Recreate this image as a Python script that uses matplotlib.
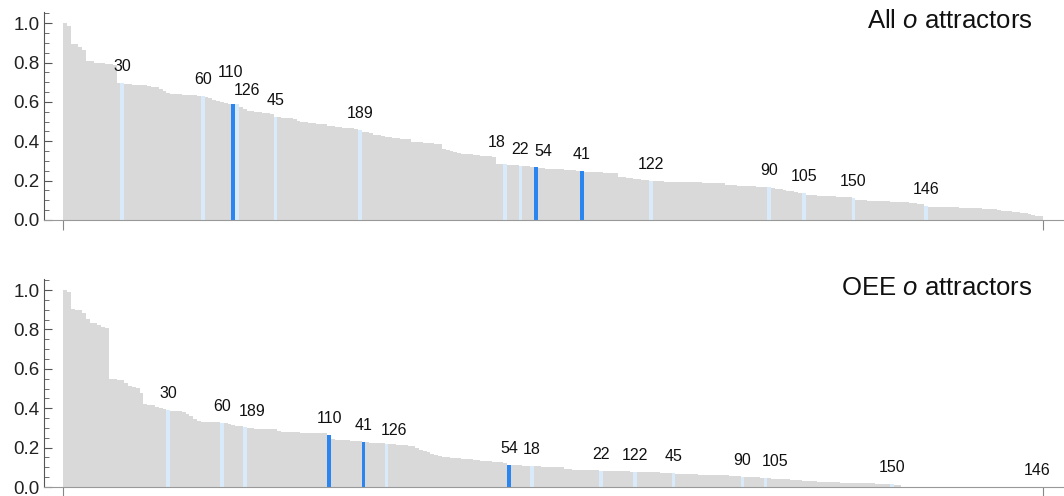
import numpy as np
import matplotlib.pyplot as plt
from matplotlib.ticker import MultipleLocator, FormatStrFormatter

plt.rcParams['font.family'] = ['Liberation Sans', 'DejaVu Sans']
plt.rcParams['mathtext.fontset'] = 'custom'
plt.rcParams['mathtext.it'] = 'Liberation Sans:italic'
plt.rcParams['mathtext.rm'] = 'Liberation Sans'

# sorted scores of all 256 rules
SCORE_ALL = [
    1.0, 0.985, 0.895, 0.893, 0.88, 0.865, 0.81, 0.808,
    0.80, 0.798, 0.796, 0.794, 0.792, 0.79, 0.695, 0.695,
    0.69, 0.69, 0.688, 0.687, 0.685, 0.684, 0.68, 0.678, 0.675, 0.665, 0.655,
    0.645, 0.643, 0.641, 0.64, 0.638, 0.636, 0.635, 0.633, 0.632, 0.63,
    0.627, 0.62, 0.612, 0.605, 0.6, 0.595, 0.59, 0.588, 0.588, 0.575, 0.565,
    0.555, 0.552, 0.55, 0.548, 0.546, 0.543, 0.538, 0.525,
    0.522, 0.52, 0.519, 0.517, 0.515,
    0.505, 0.5, 0.498, 0.495, 0.492, 0.49, 0.488, 0.486,
    0.478, 0.476, 0.474, 0.472, 0.47, 0.468, 0.466, 0.463, 0.458,
    0.449, 0.447, 0.444,
    0.432, 0.43, 0.427, 0.424, 0.421, 0.419, 0.416, 0.414, 0.412, 0.41,
    0.398, 0.396, 0.394, 0.392, 0.39, 0.389, 0.388, 0.387,
    0.359, 0.355, 0.351, 0.347,
    0.339, 0.337, 0.335, 0.333, 0.331, 0.329, 0.327, 0.325, 0.323, 0.322,
    0.287, 0.286, 0.285, 0.281, 0.279, 0.278, 0.276, 0.274, 0.272, 0.27, 0.268,
    0.263, 0.262, 0.261, 0.26, 0.259, 0.258, 0.257, 0.256, 0.254, 0.253, 0.251, 0.249,
    0.246, 0.245, 0.244, 0.243, 0.242, 0.241, 0.24, 0.238, 0.237,
    0.22, 0.218, 0.215, 0.213, 0.21, 0.208, 0.205, 0.203, 0.198,
    0.197, 0.196, 0.196, 0.195, 0.195, 0.194, 0.194, 0.193, 0.193, 0.192,
    0.192, 0.191, 0.191, 0.19, 0.19, 0.19, 0.189, 0.189, 0.188,
    0.178, 0.177, 0.176, 0.175, 0.174, 0.173, 0.172, 0.171, 0.17, 0.169, 0.168, 0.166,
    0.161, 0.158, 0.155, 0.152, 0.148, 0.145, 0.142, 0.139, 0.136,
    0.127, 0.126, 0.125, 0.124, 0.123, 0.122, 0.121, 0.12, 0.119, 0.118, 0.117, 0.116, 0.112,
    0.102, 0.101, 0.1, 0.099, 0.098, 0.097, 0.096, 0.095, 0.094,
    0.093, 0.092, 0.091, 0.09, 0.089, 0.087, 0.085, 0.083, 0.08, 0.073,
    0.068, 0.067, 0.067, 0.066, 0.066, 0.065, 0.064, 0.064, 0.063,
    0.062, 0.062, 0.061, 0.06, 0.059, 0.058, 0.057, 0.056, 0.055,
    0.05, 0.048, 0.046, 0.044, 0.042, 0.04, 0.037, 0.034, 0.03, 0.026, 0.022, 0.018,
]

SCORE_OEE = [
    1.0, 0.99, 0.902, 0.9, 0.897, 0.882, 0.851, 0.835, 0.832, 0.822, 0.81, 0.808,
    0.548, 0.546, 0.544, 0.542, 0.529, 0.513, 0.507, 0.501, 0.479,
    0.421, 0.418, 0.414, 0.407, 0.4, 0.395, 0.391,
    0.387, 0.386, 0.384, 0.382, 0.371, 0.36, 0.343,
    0.333, 0.332, 0.331, 0.33, 0.329, 0.328, 0.326, 0.323, 0.321,
    0.315, 0.312, 0.309, 0.306,
    0.299, 0.298, 0.297, 0.297, 0.296, 0.295, 0.294, 0.293, 0.286,
    0.279, 0.278, 0.278, 0.277, 0.277, 0.276, 0.276, 0.275, 0.275, 0.274, 0.273, 0.272, 0.264,
    0.243, 0.241, 0.24, 0.239, 0.238, 0.236, 0.235, 0.233, 0.23,
    0.227, 0.226, 0.225, 0.224, 0.222, 0.218,
    0.217, 0.216, 0.215, 0.213, 0.212, 0.21, 0.208,
    0.196, 0.19, 0.183, 0.176, 0.169, 0.162, 0.155,
    0.151, 0.15, 0.148, 0.147, 0.145, 0.144, 0.142, 0.14,
    0.137, 0.135, 0.133, 0.132, 0.13, 0.128, 0.126, 0.125, 0.123, 0.114,
    0.112, 0.111, 0.11, 0.109, 0.108, 0.107,
    0.106, 0.105, 0.104, 0.103, 0.102, 0.101, 0.1, 0.1,
    0.09, 0.089, 0.088, 0.087, 0.087, 0.086, 0.085, 0.084, 0.084, 0.083,
    0.082, 0.081, 0.081, 0.08, 0.08, 0.079, 0.079, 0.078, 0.078,
    0.076, 0.076, 0.075, 0.075, 0.074, 0.074, 0.073, 0.073, 0.072, 0.07,
    0.066, 0.066, 0.065, 0.065, 0.064, 0.064, 0.063, 0.062, 0.062,
    0.061, 0.061, 0.06, 0.06, 0.059, 0.058, 0.057, 0.056, 0.052,
    0.05, 0.05, 0.049, 0.049, 0.048, 0.047,
    0.044, 0.043, 0.042, 0.041, 0.04, 0.039, 0.038, 0.037, 0.036,
    0.032, 0.031, 0.03, 0.029, 0.028, 0.027, 0.026, 0.025, 0.025, 0.024,
    0.022, 0.022, 0.021, 0.021, 0.02, 0.02, 0.019, 0.019, 0.018, 0.017, 0.017, 0.016, 0.015,
    0.014, 0.01, 0.008,
] + [0.0] * 37

assert len(SCORE_ALL) == 256, len(SCORE_ALL)
assert len(SCORE_OEE) == 256, len(SCORE_OEE)

# labelled rules and their rank in each panel
RULES = [30, 60, 110, 126, 45, 189, 18, 22, 54, 41, 122, 90, 105, 150, 146]
DARK_RULES = [110, 54, 41]
RANK_ALL = [15, 36, 44, 45, 55, 77, 115, 119, 123, 135, 153, 184, 193, 206, 225]
RANK_OEE = [27, 41, 69, 84, 159, 47, 122, 140, 116, 78, 149, 177, 183, 216, 255]

GREY = '#d9d9d9'
LIGHT = '#d9ebfb'
DARK = '#2a85f0'

# label nudges in pixels (dx, dy), default is straight above the bar
NUDGE_ALL = {110: (-3, 32), 126: (10, 14), 18: (-8, 21), 54: (8, 16)}
NUDGE_OEE = {189: (7, 15), 126: (8, 14), 105: (10, 16), 146: (-4, 17)}


def draw_panel(ax, scores, ranks, nudges, title):
    n = len(scores)
    x = np.arange(n)
    colors = [GREY] * n
    for rule, r in zip(RULES, ranks):
        colors[r] = DARK if rule in DARK_RULES else LIGHT
    ax.bar(x, scores, width=1.0, align='edge', color=colors, edgecolor='none')

    for rule, r in zip(RULES, ranks):
        dx, dy = nudges.get(rule, (0, 16.5))
        ax.annotate(str(rule), xy=(r + 0.5, scores[r]), xytext=(dx, dy),
                    textcoords='offset pixels', ha='center', va='center',
                    fontsize=11.5, color='#111111')

    ax.set_xlim(-5.1, 261.2)
    ax.set_ylim(0, 1.055)
    ax.set_xticks([0, n])
    ax.set_xticklabels([])
    ax.yaxis.set_major_locator(MultipleLocator(0.2))
    ax.yaxis.set_minor_locator(MultipleLocator(0.05))
    ax.yaxis.set_major_formatter(FormatStrFormatter('%.1f'))
    ax.tick_params(axis='y', which='major', direction='in', length=5.5, width=0.8,
                   colors='#555555', labelsize=13.5, labelcolor='#222222', pad=3)
    ax.tick_params(axis='y', which='minor', direction='in', length=3.5, width=0.6,
                   colors='#555555')
    ax.tick_params(axis='x', direction='out', length=7, width=0.8, colors='#888888')
    for side in ['top', 'right']:
        ax.spines[side].set_visible(False)
    ax.spines['left'].set_color('#555555')
    ax.spines['bottom'].set_color('#999999')
    ax.text(0.9706, 0.96, title, transform=ax.transAxes, ha='right', va='center',
            fontsize=18.5, color='#111111')


fig = plt.figure(figsize=(10.64, 4.96), dpi=100)
ax1 = fig.add_axes([0.0409, 0.5565, 0.958, 0.4183])
ax2 = fig.add_axes([0.0409, 0.0181, 0.958, 0.4189])

draw_panel(ax1, SCORE_ALL, RANK_ALL, NUDGE_ALL, 'All $o$ attractors')
draw_panel(ax2, SCORE_OEE, RANK_OEE, NUDGE_OEE, 'OEE $o$ attractors')

fig.savefig('out.png', dpi=100)
